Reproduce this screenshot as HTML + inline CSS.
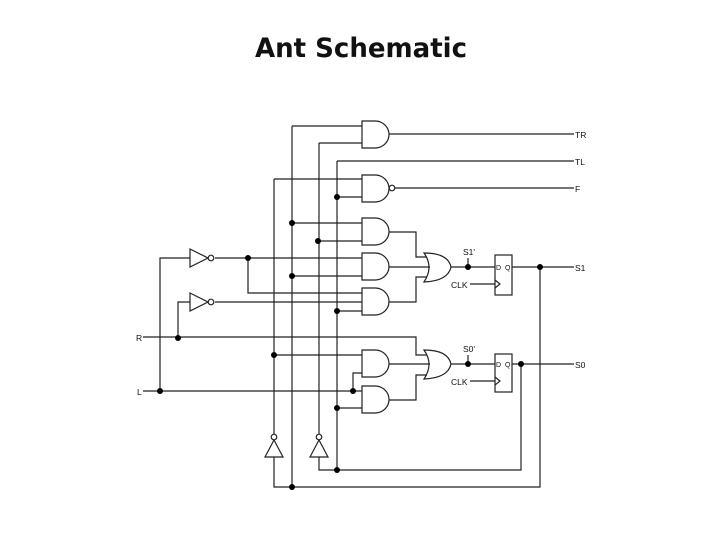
<!DOCTYPE html>
<html><head><meta charset="utf-8"><style>
html,body{margin:0;padding:0;background:#fff;}
svg{display:block}
text{font-family:"Liberation Sans",Arial,sans-serif;}
</style></head><body>
<svg width="720" height="540" viewBox="0 0 720 540" xmlns="http://www.w3.org/2000/svg">
<rect width="720" height="540" fill="#fff"/>
<text x="255" y="57" font-size="27" font-weight="bold" textLength="212" lengthAdjust="spacingAndGlyphs" fill="#111" style="font-family:'DejaVu Sans',sans-serif">Ant Schematic</text>
<defs>
<path id="and" d="M0,0 H13 A14,13.5 0 0 1 13,27 H0 Z"/>
</defs>
<g stroke="#222" stroke-width="1.2" fill="none">
<path d="M292,126 V487"/>
<path d="M319,143 V437"/>
<path d="M337,161 V470"/>
<path d="M274,179 V437"/>
<path d="M274,457 V487 H540 V267"/>
<path d="M319,457 V470 H521 V364"/>
<path d="M292,126 H362 M319,143 H362"/>
<use href="#and" x="362" y="121"/>
<path d="M389,134 H574"/>
<path d="M337,161 H574"/>
<path d="M274,179 H362 M337,197 H362"/>
<use href="#and" x="362" y="175"/>
<circle cx="392" cy="188" r="2.8" fill="#fff"/>
<path d="M395,188 H574"/>
<path d="M292,223 H362 M319,241 H362"/>
<use href="#and" x="362" y="218"/>
<path d="M389,232 H416 V257 H427"/>
<path d="M160,391 V258 H190 M215,258 H362 M292,276 H362"/>
<use href="#and" x="362" y="253"/>
<path d="M389,267 H430"/>
<path d="M190,249 L208,258 L190,267 Z"/>
<circle cx="211" cy="258" r="2.8" fill="#fff"/>
<path d="M178,338 V302 H190 M215,302 H362"/>
<path d="M190,293 L208,302 L190,311 Z"/>
<circle cx="211" cy="302" r="2.8" fill="#fff"/>
<path d="M248,258 V293 H362 M337,311 H362"/>
<use href="#and" x="362" y="288"/>
<path d="M389,302 H416 V277 H427"/>
<path d="M424,253 Q448,253 451,267 Q448,281 424,282 Q434,267 424,253 Z"/>
<path d="M451,267 H495"/>
<path d="M468,258 V267"/>
<rect x="495" y="255" width="17" height="40"/>
<path d="M470,284 H495 M495,280 L500,284 L495,288"/>
<path d="M512,267 H574"/>
<path d="M143,337 H416 V355 H427"/>
<path d="M274,355 H362 M353,391 V373 H362"/>
<use href="#and" x="362" y="350"/>
<path d="M389,364 H430"/>
<path d="M143,391 H362 M337,408 H362"/>
<use href="#and" x="362" y="386"/>
<path d="M389,400 H416 V375 H427"/>
<path d="M424,350 Q448,350 451,364 Q448,378 424,379 Q434,364 424,350 Z"/>
<path d="M451,364 H495"/>
<path d="M468,355 V364"/>
<rect x="495" y="354" width="17" height="38"/>
<path d="M470,381 H495 M495,377 L500,381 L495,385"/>
<path d="M512,364 H574"/>
<path d="M265,457 L274,440 L283,457 Z"/>
<circle cx="274" cy="437" r="2.8" fill="#fff"/>
<path d="M310,457 L319,440 L328,457 Z"/>
<circle cx="319" cy="437" r="2.8" fill="#fff"/>
</g>
<g fill="#000">
<circle cx="337" cy="197" r="3"/>
<circle cx="292" cy="223" r="3"/>
<circle cx="318" cy="241" r="3"/>
<circle cx="248" cy="258" r="3"/>
<circle cx="292" cy="276" r="3"/>
<circle cx="337" cy="311" r="3"/>
<circle cx="178" cy="338" r="3"/>
<circle cx="274" cy="355" r="3"/>
<circle cx="160" cy="391" r="3"/>
<circle cx="353" cy="391" r="3"/>
<circle cx="337" cy="408" r="3"/>
<circle cx="337" cy="470" r="3"/>
<circle cx="292" cy="487" r="3"/>
<circle cx="468" cy="267" r="3"/>
<circle cx="540" cy="267" r="3"/>
<circle cx="468" cy="364" r="3"/>
<circle cx="521" cy="364" r="3"/>
</g>
<g font-size="8.5" fill="#111">
<text x="575" y="138">TR</text>
<text x="575" y="165">TL</text>
<text x="575" y="192">F</text>
<text x="575" y="271">S1</text>
<text x="575" y="368">S0</text>
<text x="136" y="341">R</text>
<text x="137" y="395">L</text>
<text x="463" y="255">S1'</text>
<text x="463" y="352">S0'</text>
<text x="451" y="288">CLK</text>
<text x="451" y="385">CLK</text>
<text x="496" y="270" font-size="7">D</text>
<text x="505" y="270" font-size="7">Q</text>
<text x="496" y="367" font-size="7">D</text>
<text x="505" y="367" font-size="7">Q</text>
</g>
</svg>
</body></html>
